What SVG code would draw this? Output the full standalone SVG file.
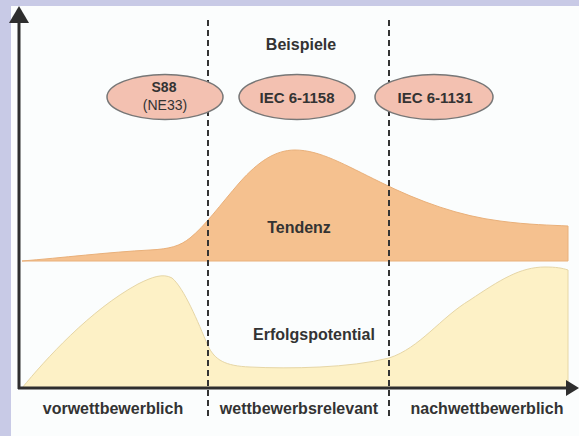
<svg xmlns="http://www.w3.org/2000/svg" width="579" height="436" viewBox="0 0 579 436">
<defs>
<style>
.t{font-family:"Liberation Sans",Arial,sans-serif;font-weight:bold;font-size:16px;fill:#333;text-anchor:middle}
.e{font-family:"Liberation Sans",Arial,sans-serif;font-size:14px;fill:#333;text-anchor:middle}
.ell{fill:#f3c1b1;stroke:#777;stroke-width:1.5}
.dash{stroke:#333;stroke-width:2;stroke-dasharray:6 4;fill:none}
.axis{stroke:#2e2e2e;stroke-width:3;fill:none}
</style>
</defs>
<rect x="0" y="0" width="579" height="436" fill="#c8cae6"/>
<rect x="11" y="6" width="568" height="430" fill="#fbfdfd"/>
<g id="tendenz">
<path d="M22,261 C60,258 110,252 150,250 C170,249 180,246 190,238 C205,226 220,205 240,182 C258,162 275,150 295,150 C320,150 345,165 380,182 C420,202 460,216 500,221 C530,225 550,225 568,226 L568,261 Z" fill="#f5c18f" stroke="#e9b07a" stroke-width="1"/>
<text class="t" x="299" y="233">Tendenz</text>
</g>
<g id="erfolgspotential">
<path d="M22,388 C45,360 90,310 138,284 C152,277 163,273 172,278 C184,288 198,322 208,346 C215,360 225,366 250,367 C290,369 350,368 389,358 C420,348 440,318 470,300 C500,280 520,267 545,267 C556,267 562,268 568,270 L568,388 Z" fill="#fdf1c6" stroke="#e6d6a6" stroke-width="1"/>
<text class="t" x="314" y="340">Erfolgspotential</text>
</g>
<g id="connectors">
<line class="dash" x1="208" y1="20" x2="208" y2="417"/>
<line class="dash" x1="389" y1="20" x2="389" y2="417"/>
<line class="axis" x1="19" y1="20" x2="19" y2="389"/>
<line class="axis" x1="18" y1="388" x2="570" y2="388"/>
<polygon points="19,6 9,23 29,23" fill="#2e2e2e"/>
<polygon points="579,388 566,380 566,396" fill="#2e2e2e"/>
</g>
<g id="beispiele">
<text class="t" x="301" y="50">Beispiele</text>
</g>
<g id="s88">
<ellipse class="ell" cx="165" cy="97" rx="58" ry="22.5"/>
<text class="t" x="164" y="92" style="font-size:14px">S88</text>
<text class="e" x="165" y="110">(NE33)</text>
</g>
<g id="iec1158">
<ellipse class="ell" cx="297" cy="97" rx="58" ry="22.5"/>
<text class="t" x="297" y="103" style="font-size:15px">IEC 6-1158</text>
</g>
<g id="iec1131">
<ellipse class="ell" cx="434" cy="97" rx="59" ry="22.5"/>
<text class="t" x="435" y="103" style="font-size:15px">IEC 6-1131</text>
</g>
<g id="phases">
<text class="t" x="113" y="414">vorwettbewerblich</text>
<text class="t" x="299" y="414">wettbewerbsrelevant</text>
<text class="t" x="487" y="414">nachwettbewerblich</text>
</g>
</svg>
